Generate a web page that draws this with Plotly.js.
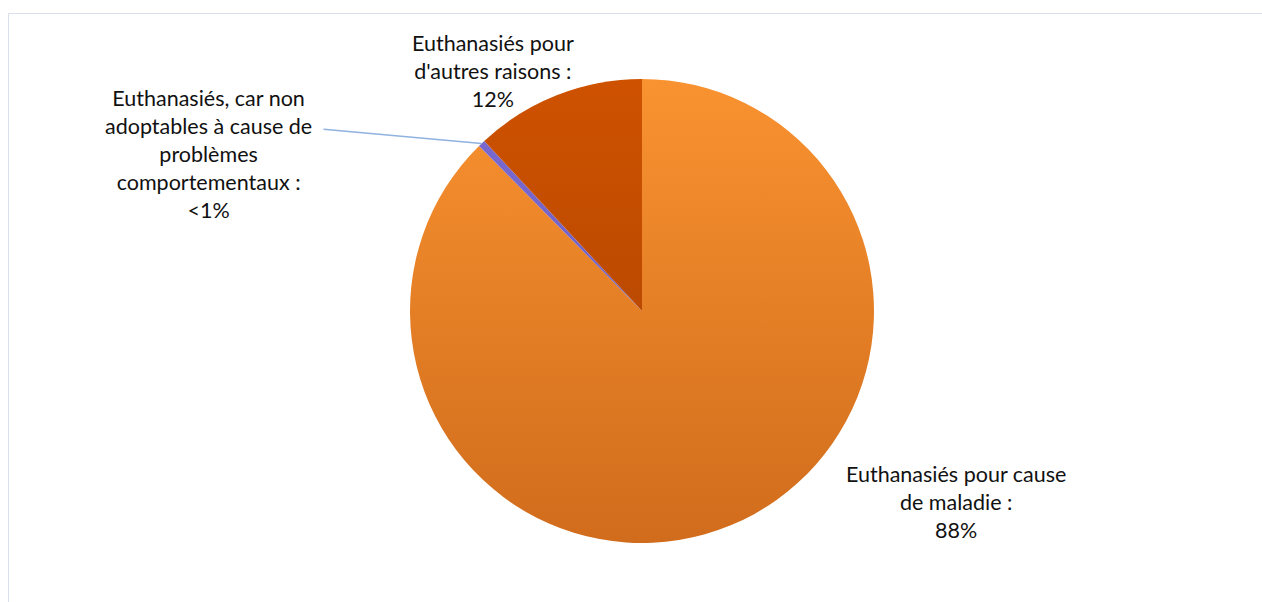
<!DOCTYPE html>
<html>
<head>
<meta charset="utf-8">
<script src="https://cdn.plot.ly/plotly-3.0.1.min.js"></script>
<style>
  html, body { margin: 0; padding: 0; background: #ffffff; }
  #chart { width: 1262px; height: 602px; }
</style>
</head>
<body>
<div id="chart"></div>
<script>
// ---- data ----
const categories = [
  "Euthanasiés pour cause<br>de maladie :",
  "Euthanasiés, car non<br>adoptables à cause de<br>problèmes<br>comportementaux :",
  "Euthanasiés pour<br>d'autres raisons :"
];
const values = [87.6, 0.5, 11.9];
const percentLabels = ["88%", "<1%", "12%"];
const sliceColors = ["#EC8228", "#7463C6", "#BE4802"];

// ---- layout geometry (pixels) ----
const W = 1262, H = 602;
const cx = 642, cy = 311, R = 232;
const domX = [(cx - R) / W, (cx + R) / W];
const domY = [(H - (cy + R)) / H, (H - (cy - R)) / H];

const labelText = categories.map((c, i) => c + "<br>" + percentLabels[i]);
const labelPos = [
  { x: 956, y: 502 },
  { x: 208, y: 154 },
  { x: 493, y: 71 }
];

const font = { family: "Lato, 'Open Sans', sans-serif", size: 21.5, color: "#111111" };

// leader line target for the small slice, computed from data
const total = values.reduce((a, b) => a + b, 0);
const midFrac = (values[0] + values[1] / 2) / total;
const theta = 2 * Math.PI * midFrac;
const px = cx + R * Math.sin(theta);
const py = cy - R * Math.cos(theta);

const annotations = labelText.map((t, i) => ({
  text: t,
  x: labelPos[i].x / W,
  y: 1 - labelPos[i].y / H,
  xref: "paper", yref: "paper",
  xanchor: "center", yanchor: "middle",
  showarrow: false,
  align: "center",
  font: font
}));
annotations.push({
  text: "",
  x: px / W, y: 1 - py / H,
  xref: "paper", yref: "paper",
  ax: 322 - px, ay: 129 - py,
  showarrow: true, arrowhead: 0, arrowwidth: 1.5, arrowcolor: "#8FB2E0",
  standoff: 0, startstandoff: 0
});

const trace = {
  type: "pie",
  values: values,
  labels: categories,
  sort: false,
  direction: "clockwise",
  rotation: 0,
  textinfo: "none",
  hoverinfo: "label+percent",
  marker: { colors: sliceColors, line: { width: 0 } },
  domain: { x: domX, y: domY },
  showlegend: false
};

const layout = {
  width: W, height: H,
  margin: { l: 0, r: 0, t: 0, b: 0 },
  paper_bgcolor: "#ffffff",
  plot_bgcolor: "#ffffff",
  showlegend: false,
  annotations: annotations,
  shapes: [{
    type: "rect", xref: "paper", yref: "paper",
    x0: 8.5 / W, x1: 1.01, y0: -0.01, y1: 1 - 13.5 / H,
    line: { color: "#D6DFEA", width: 1 }, fillcolor: "rgba(0,0,0,0)", layer: "below"
  }]
};

Plotly.newPlot("chart", [trace], layout, { displayModeBar: false, staticPlot: true }).then(gd => {
  // add vertical gradients like the original's shaded fills
  const svg = gd.querySelector("svg.main-svg");
  const ns = "http://www.w3.org/2000/svg";
  const defs = document.createElementNS(ns, "defs");
  const grads = [
    ["#F99230", "#D06C1C"],
    ["#7C6CD2", "#6656B8"],
    ["#CE5200", "#A84100"]
  ];
  grads.forEach((g, i) => {
    const lg = document.createElementNS(ns, "linearGradient");
    lg.setAttribute("id", "sliceGrad" + i);
    lg.setAttribute("gradientUnits", "userSpaceOnUse");
    lg.setAttribute("x1", cx); lg.setAttribute("x2", cx);
    lg.setAttribute("y1", cy - R); lg.setAttribute("y2", cy + R);
    [[0, g[0]], [1, g[1]]].forEach(([o, c]) => {
      const s = document.createElementNS(ns, "stop");
      s.setAttribute("offset", o);
      s.setAttribute("stop-color", c);
      lg.appendChild(s);
    });
    defs.appendChild(lg);
  });
  svg.insertBefore(defs, svg.firstChild);
  const slices = gd.querySelectorAll("g.slice path.surface");
  slices.forEach((p, i) => {
    const ctm = p.getCTM();
    const lg = defs.children[i];
    if (ctm) {
      lg.setAttribute("y1", cy - R - ctm.f);
      lg.setAttribute("y2", cy + R - ctm.f);
      lg.setAttribute("x1", cx - ctm.e);
      lg.setAttribute("x2", cx - ctm.e);
    }
    p.style.fill = "url(#sliceGrad" + i + ")";
  });
});
</script>
</body>
</html>
